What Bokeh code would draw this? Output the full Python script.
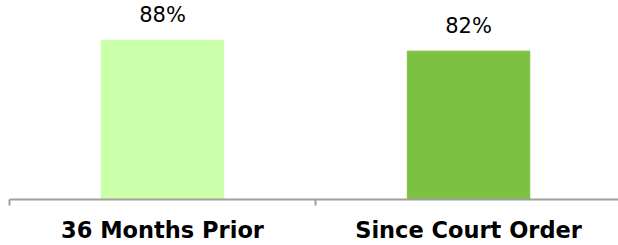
from bokeh.plotting import figure
from bokeh.models import (ColumnDataSource, LabelSet, Range1d, LinearAxis, FixedTicker,
                          CustomJSTickFormatter)
from bokeh.core.properties import value
from bokeh.embed import file_html
from bokeh.resources import INLINE

categories = ["36 Months Prior", "Since Court Order"]
values = [88, 82]
value_labels = ["88%", "82%"]
bar_colors = ["#CCFFAA", "#7CC142"]

n = len(categories)
centers = [i + 0.5 for i in range(n)]
boundaries = list(range(n))

source = ColumnDataSource(dict(x=centers, val=values, lab=value_labels, color=bar_colors))

p = figure(x_range=Range1d(0, n * 0.995), y_range=Range1d(0, 110),
           width=618, height=245,
           output_backend="svg", toolbar_location=None,
           x_axis_location=None, y_axis_location=None,
           min_border_top=0, min_border_left=9, min_border_right=0, min_border_bottom=0)
p.outline_line_color = None
p.grid.visible = False
p.background_fill_color = "white"
p.border_fill_color = "white"

p.vbar(x="x", top="val", width=0.4, color="color", source=source)

labels = LabelSet(x="x", y="val", text="lab", source=source,
                  text_align="center", text_baseline="bottom", y_offset=13,
                  text_font=value("DejaVu Sans"), text_font_size="21px", text_color="#000000")
p.add_layout(labels)

tick_axis = LinearAxis(ticker=FixedTicker(ticks=boundaries),
                       formatter=CustomJSTickFormatter(code="return ''"))
tick_axis.axis_line_color = "#A0A0A0"
tick_axis.axis_line_width = 2
tick_axis.major_tick_line_color = "#A0A0A0"
tick_axis.major_tick_line_width = 2
tick_axis.major_tick_in = 0
tick_axis.major_tick_out = 6
tick_axis.minor_tick_line_color = None
tick_axis.major_label_text_font_size = "1px"
tick_axis.major_label_standoff = -6
p.add_layout(tick_axis, "below")

cat_axis = LinearAxis(ticker=FixedTicker(ticks=centers),
                      major_label_overrides={c: name for c, name in zip(centers, categories)})
cat_axis.axis_line_color = None
cat_axis.major_tick_line_color = None
cat_axis.minor_tick_line_color = None
cat_axis.major_tick_in = 0
cat_axis.major_tick_out = 0
cat_axis.major_label_text_font = "DejaVu Sans"
cat_axis.major_label_text_font_style = "bold"
cat_axis.major_label_text_font_size = "22.5px"
cat_axis.major_label_text_color = "#000000"
cat_axis.major_label_standoff = 11
p.add_layout(cat_axis, "below")

open("out.html", "w").write(file_html(p, INLINE))
